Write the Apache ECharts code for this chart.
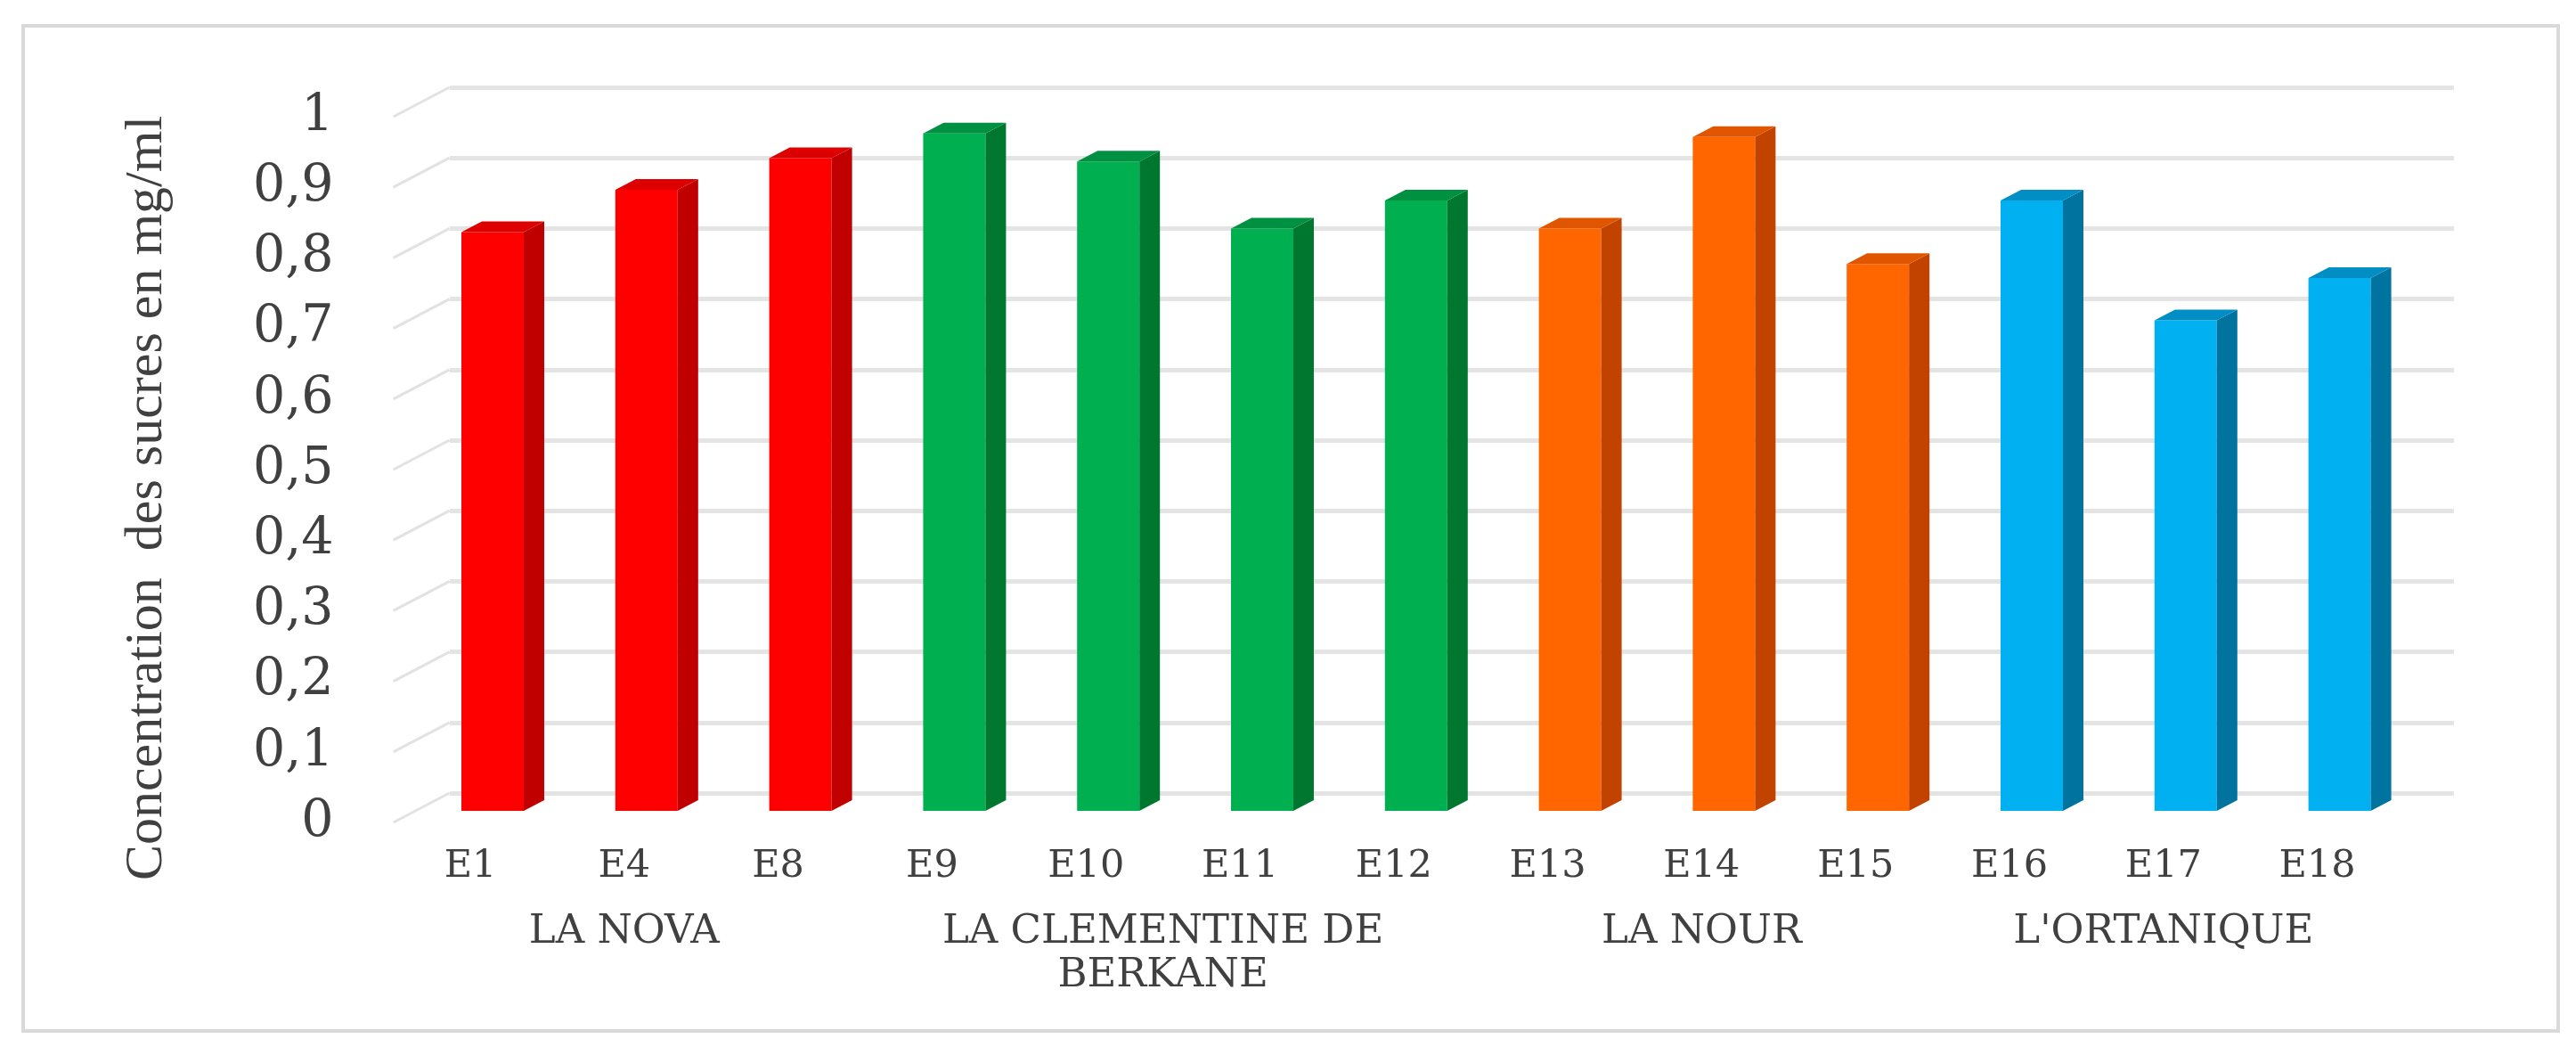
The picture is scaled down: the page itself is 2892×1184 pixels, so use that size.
<!DOCTYPE html>
<html>
<head>
<meta charset="utf-8">
<title>Concentration des sucres</title>
<script src="https://cdn.jsdelivr.net/npm/echarts@6/dist/echarts.min.js"></script>
<style>
  html, body { margin: 0; padding: 0; background: #fff; }
  #chart { width: 2892px; height: 1184px; }
</style>
</head>
<body>
<div id="chart"></div>
<script>
// samples (x axis, first level)
const categories = ["E1", "E4", "E8", "E9", "E10", "E11", "E12", "E13", "E14", "E15", "E16", "E17", "E18"];
// sugar concentration, mg/ml
const values = [0.82, 0.88, 0.925, 0.96, 0.92, 0.825, 0.865, 0.825, 0.955, 0.775, 0.865, 0.695, 0.755];
// varieties (x axis, second level) and how many samples each one has
const groupNames = ["LA NOVA", "LA CLEMENTINE DE\nBERKANE", "LA NOUR", "L'ORTANIQUE"];
const groupSizes = [3, 4, 3, 3];
const yTicks = [0, 0.1, 0.2, 0.3, 0.4, 0.5, 0.6, 0.7, 0.8, 0.9, 1];

// front / side / top colour of the 3d columns, one per variety
const groupColors = [
  ["#FF0000", "#C00000", "#DC0000"],
  ["#00B050", "#00772F", "#009042"],
  ["#FF6600", "#C24200", "#E05600"],
  ["#00B0F0", "#00739E", "#008EC4"]
];

// which variety each sample belongs to, and the centre of each variety label
let groupOf = [];
let groupCenters = [];
let start = 0;
groupSizes.forEach((n, g) => {
  for (let k = 0; k < n; k++) groupOf.push(g);
  groupCenters.push(start + (n - 1) / 2);
  start += n;
});

const barData = values.map((v, i) => [i, v, groupOf[i]]);
const tickData = yTicks.map(t => [0, t]);

// depth of the fake 3d box: back wall sits up-right of the label plane
const DEPTH_X = 63, DEPTH_Y = 33;
// depth of a single column
const COL_X = 23, COL_Y = 12;

const serif = "'DejaVu Serif', 'Liberation Serif', serif";
const textColor = "#404040";

function renderColumn(params, api) {
  const i = api.value(0);
  const v = api.value(1);
  const c = groupColors[api.value(2)];
  const base = api.coord([i, 0]);
  const top = api.coord([i, v]);
  const w = api.size([1, 0])[0] * 0.405;
  const xl = top[0] - w / 2;
  const xr = top[0] + w / 2;
  return {
    type: "group",
    children: [
      {
        type: "rect",
        shape: { x: xl, y: top[1], width: w, height: base[1] - top[1] },
        style: { fill: c[0] }
      },
      {
        type: "polygon",
        shape: { points: [[xr, top[1]], [xr + COL_X, top[1] - COL_Y], [xr + COL_X, base[1] - COL_Y], [xr, base[1]]] },
        style: { fill: c[1] }
      },
      {
        type: "polygon",
        shape: { points: [[xl, top[1]], [xl + COL_X, top[1] - COL_Y], [xr + COL_X, top[1] - COL_Y], [xr, top[1]]] },
        style: { fill: c[2] }
      }
    ]
  };
}

// floor lines joining each value label to its gridline on the back wall
function renderFloorLine(params, api) {
  const p = api.coord([0, api.value(1)]);
  const x0 = p[0] - api.size([1, 0])[0] / 2;
  return {
    type: "line",
    shape: { x1: x0, y1: p[1], x2: x0 + DEPTH_X, y2: p[1] - DEPTH_Y },
    style: { stroke: "#E2E2E2", lineWidth: 3 }
  };
}

const myChart = echarts.init(document.getElementById("chart"));

myChart.setOption({
  backgroundColor: "#fff",
  animation: false,
  graphic: [
    {
      type: "rect",
      shape: { x: 26, y: 29, width: 2846, height: 1128 },
      style: { fill: "none", stroke: "#D9D9D9", lineWidth: 4 },
      z: 0
    }
  ],
  grid: [
    // back wall
    { left: 505, right: 137, top: 98, bottom: 294 },
    // column plane
    { left: 466.6, right: 179, top: 118, bottom: 274 },
    // front plane, carries the labels
    { left: 441.6, right: 204, top: 131, bottom: 261 }
  ],
  xAxis: [
    { gridIndex: 0, type: "value", min: 0, max: 1, show: false },
    { gridIndex: 1, type: "category", data: categories, show: false },
    {
      gridIndex: 2,
      type: "category",
      data: categories,
      axisLine: { show: false },
      axisTick: { show: false },
      axisLabel: {
        margin: 28,
        fontFamily: serif,
        fontSize: 43,
        color: textColor
      }
    },
    {
      gridIndex: 2,
      type: "value",
      min: -0.5,
      max: categories.length - 0.5,
      position: "bottom",
      axisLine: { show: false },
      axisTick: { show: false },
      splitLine: { show: false },
      axisLabel: {
        customValues: groupCenters,
        margin: 99,
        fontFamily: serif,
        fontSize: 45,
        lineHeight: 49,
        color: textColor,
        formatter: v => groupNames[groupCenters.indexOf(v)]
      }
    }
  ],
  yAxis: [
    {
      gridIndex: 0,
      type: "value",
      min: 0,
      max: 1,
      interval: 0.1,
      axisLine: { show: false },
      axisTick: { show: false },
      axisLabel: { show: false },
      splitLine: { lineStyle: { color: "#E4E4E4", width: 5 } }
    },
    { gridIndex: 1, type: "value", min: 0, max: 1, interval: 0.1, show: false },
    {
      gridIndex: 2,
      type: "value",
      min: 0,
      max: 1,
      interval: 0.1,
      axisLine: { show: false },
      axisTick: { show: false },
      splitLine: { show: false },
      axisLabel: {
        margin: 67,
        fontFamily: serif,
        fontSize: 57,
        color: textColor,
        formatter: v => String(Math.round(v * 10) / 10).replace(".", ",")
      },
      name: "Concentration  des sucres en mg/ml",
      nameLocation: "middle",
      nameGap: 246,
      nameTextStyle: {
        fontFamily: "'Liberation Serif', serif",
        fontSize: 60,
        color: textColor,
        padding: [0, 64, 0, 0]
      }
    }
  ],
  series: [
    {
      type: "custom",
      xAxisIndex: 2,
      yAxisIndex: 2,
      renderItem: renderFloorLine,
      data: tickData,
      silent: true,
      z: 1
    },
    {
      type: "custom",
      xAxisIndex: 1,
      yAxisIndex: 1,
      renderItem: renderColumn,
      encode: { x: 0, y: 1 },
      data: barData,
      z: 3
    }
  ]
});
</script>
</body>
</html>
